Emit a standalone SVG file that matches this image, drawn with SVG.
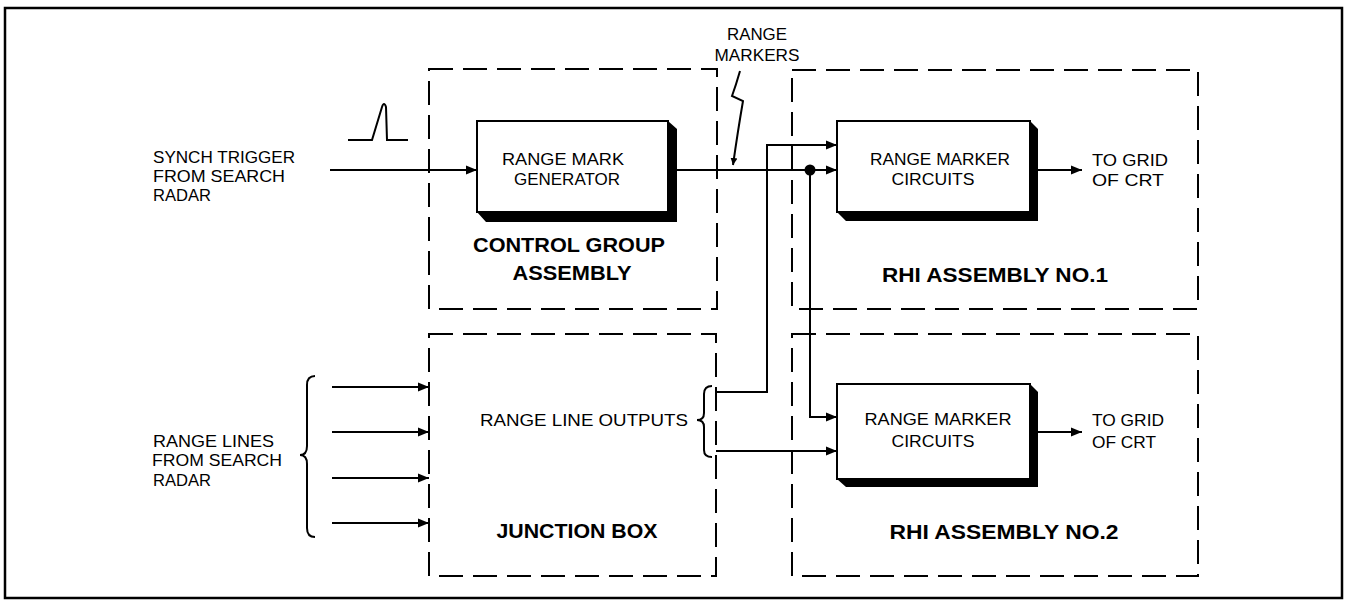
<svg xmlns="http://www.w3.org/2000/svg" width="1347" height="601" viewBox="0 0 1347 601">
<defs>
<marker id="arr" markerUnits="userSpaceOnUse" markerWidth="12" markerHeight="10" refX="11" refY="5" orient="auto"><path d="M0,0.5 L11,5 L0,9.5 Z" fill="#000"/></marker>
<marker id="arrs" markerUnits="userSpaceOnUse" markerWidth="8" markerHeight="12" refX="7" refY="4" orient="auto"><path d="M0,0.5 L7,4 L0,7.5 Z" fill="#000"/></marker>
</defs>
<style>
.t{font-family:"Liberation Sans",Arial,sans-serif;font-size:16.5px;fill:#000}
.b{font-family:"Liberation Sans",Arial,sans-serif;font-size:21px;font-weight:bold;fill:#000}
.dash{fill:none;stroke:#000;stroke-width:2;stroke-dasharray:24 10}
.ln{fill:none;stroke:#000;stroke-width:2}
.box{fill:#fff;stroke:#000;stroke-width:2}
.sh{fill:#000}
</style>
<rect width="1347" height="601" fill="#fff"/>
<rect x="5" y="8" width="1337" height="590" fill="none" stroke="#000" stroke-width="2.5"/>

<g id="control-group">
<rect class="dash" x="429" y="69" width="288" height="240"/>
<text class="b" x="569" y="252" text-anchor="middle" textLength="192" lengthAdjust="spacingAndGlyphs">CONTROL GROUP</text>
<text class="b" x="572" y="280" text-anchor="middle" textLength="119" lengthAdjust="spacingAndGlyphs">ASSEMBLY</text>
</g>

<g id="range-mark-generator">
<polygon class="sh" points="668,121 677,129 677,222 486,222 477,212 668,212"/>
<rect class="box" x="477" y="121" width="191" height="91"/>
<text class="t" x="563" y="165" text-anchor="middle" textLength="122" lengthAdjust="spacingAndGlyphs">RANGE MARK</text>
<text class="t" x="567" y="185" text-anchor="middle" textLength="106" lengthAdjust="spacingAndGlyphs">GENERATOR</text>
</g>

<g id="rhi-1">
<rect class="dash" x="792" y="70" width="406" height="239"/>
<text class="b" x="995" y="282" text-anchor="middle" textLength="226" lengthAdjust="spacingAndGlyphs">RHI ASSEMBLY NO.1</text>
</g>

<g id="rmc-1">
<polygon class="sh" points="1030,121 1038,129 1038,221 846,221 837,212 1030,212"/>
<rect class="box" x="837" y="121" width="193" height="91"/>
<text class="t" x="940" y="165" text-anchor="middle" textLength="140" lengthAdjust="spacingAndGlyphs">RANGE MARKER</text>
<text class="t" x="933" y="185" text-anchor="middle" textLength="83" lengthAdjust="spacingAndGlyphs">CIRCUITS</text>
</g>

<g id="junction-box">
<rect class="dash" x="429" y="334" width="287" height="242"/>
<text class="t" x="584" y="426" text-anchor="middle" textLength="208" lengthAdjust="spacingAndGlyphs">RANGE LINE OUTPUTS</text>
<path class="ln" stroke-width="1.5" d="M712,386 Q704,386 704,394 L704,413 Q704,420 697,420 Q704,420 704,427 L704,450 Q704,457 712,457"/>
<text class="b" x="577" y="538" text-anchor="middle" textLength="161" lengthAdjust="spacingAndGlyphs">JUNCTION BOX</text>
</g>

<g id="rhi-2">
<rect class="dash" x="792" y="334" width="406" height="242"/>
<text class="b" x="1004" y="539" text-anchor="middle" textLength="229" lengthAdjust="spacingAndGlyphs">RHI ASSEMBLY NO.2</text>
</g>

<g id="rmc-2">
<polygon class="sh" points="1030,384 1038,392 1038,487 846,487 837,479 1030,479"/>
<rect class="box" x="837" y="384" width="193" height="95"/>
<text class="t" x="938" y="425" text-anchor="middle" textLength="147" lengthAdjust="spacingAndGlyphs">RANGE MARKER</text>
<text class="t" x="933" y="447" text-anchor="middle" textLength="83" lengthAdjust="spacingAndGlyphs">CIRCUITS</text>
</g>

<g id="labels">
<text class="t" x="153" y="163" textLength="142" lengthAdjust="spacingAndGlyphs">SYNCH TRIGGER</text>
<text class="t" x="153" y="182" textLength="132" lengthAdjust="spacingAndGlyphs">FROM SEARCH</text>
<text class="t" x="153" y="201" textLength="58" lengthAdjust="spacingAndGlyphs">RADAR</text>
<text class="t" x="153" y="447" textLength="121" lengthAdjust="spacingAndGlyphs">RANGE LINES</text>
<text class="t" x="152" y="466" textLength="130" lengthAdjust="spacingAndGlyphs">FROM SEARCH</text>
<text class="t" x="153" y="486" textLength="58" lengthAdjust="spacingAndGlyphs">RADAR</text>
<path class="ln" stroke-width="1.5" d="M315,376 Q307,376 307,385 L307,446 Q307,455 300,455 Q307,455 307,464 L307,528 Q307,537 315,537"/>
<text class="t" x="757" y="40" text-anchor="middle" textLength="60" lengthAdjust="spacingAndGlyphs">RANGE</text>
<text class="t" x="757" y="61" text-anchor="middle" textLength="85" lengthAdjust="spacingAndGlyphs">MARKERS</text>
<text class="t" x="1092" y="166" textLength="76" lengthAdjust="spacingAndGlyphs">TO GRID</text>
<text class="t" x="1092" y="186" textLength="72" lengthAdjust="spacingAndGlyphs">OF CRT</text>
<text class="t" x="1092" y="426" textLength="72" lengthAdjust="spacingAndGlyphs">TO GRID</text>
<text class="t" x="1092" y="448" textLength="64" lengthAdjust="spacingAndGlyphs">OF CRT</text>
<path class="ln" d="M348,140 L372,140 L382,107 Q384,101 386,107 L387,140 L408,140"/>
</g>

<g id="connectors">
<path class="ln" d="M330,170 L477,170" marker-end="url(#arr)"/>
<path class="ln" d="M677,170 L837,170" marker-end="url(#arr)"/>
<circle cx="810" cy="170" r="5.5" fill="#000"/>
<path class="ln" stroke-width="1.2" d="M740,71 Q736,85 732,96 L743,101 Q738,130 733,165" marker-end="url(#arrs)"/>
<path class="ln" d="M716,392 L767,392 L767,145 L837,145" marker-end="url(#arr)"/>
<path class="ln" d="M810,170 L810,417 L837,417" marker-end="url(#arr)"/>
<path class="ln" d="M716,451 L837,451" marker-end="url(#arr)"/>
<path class="ln" d="M1038,170 L1082,170" marker-end="url(#arr)"/>
<path class="ln" d="M1038,432 L1082,432" marker-end="url(#arr)"/>
<path class="ln" d="M332,387 L429,387" marker-end="url(#arr)"/>
<path class="ln" d="M332,432 L429,432" marker-end="url(#arr)"/>
<path class="ln" d="M332,478 L429,478" marker-end="url(#arr)"/>
<path class="ln" d="M332,523 L429,523" marker-end="url(#arr)"/>
</g>
</svg>
